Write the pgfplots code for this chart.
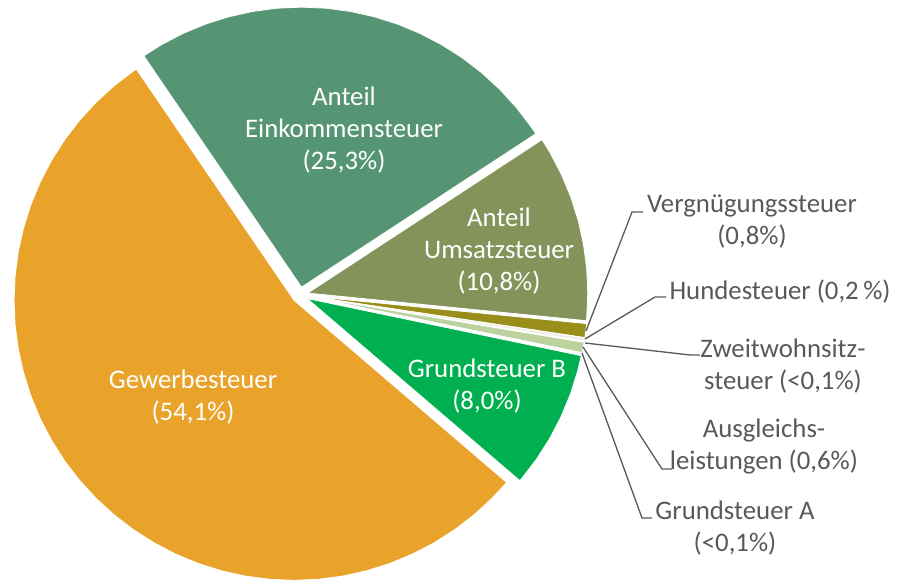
\documentclass[border=0pt]{standalone}
\usepackage{pgfplots}
\pgfplotsset{compat=1.18}
\usepackage{fontspec}
\setmainfont{Carlito}

\definecolor{cGew}{HTML}{E9A32A}
\definecolor{cEink}{HTML}{569574}
\definecolor{cUms}{HTML}{84935A}
\definecolor{cVerg}{HTML}{998E1A}
\definecolor{cHund}{HTML}{EFEFE6}
\definecolor{cZweit}{HTML}{EFEFE6}
\definecolor{cAusgl}{HTML}{BCD3A0}
\definecolor{cGrA}{HTML}{E4EAD8}
\definecolor{cGrB}{HTML}{00B050}
\definecolor{txt}{HTML}{595959}

\begin{document}
\begin{tikzpicture}
\begin{axis}[
    hide axis, scale only axis,
    width=903pt, height=583pt,
    xmin=-300, xmax=603, ymin=-288, ymax=295,
    clip=false,
    every axis plot/.append style={data cs=polar, draw=white, line width=0.8pt},
]
% Gewerbesteuer 54,1 %
\addplot[fill=cGew, shift={(221.86:8pt)}] coordinates {
 (0,0) (124.3,280) (125,280) (130,280) (135,280) (140,280) (145,280) (150,280)
 (155,280) (160,280) (165,280) (170,280) (175,280) (180,280) (185,280) (190,280)
 (195,280) (200,280) (205,280) (210,280) (215,280) (220,280) (225,280) (230,280)
 (235,280) (240,280) (245,280) (250,280) (255,280) (260,280) (265,280) (270,280)
 (275,280) (280,280) (285,280) (290,280) (295,280) (300,280) (305,280) (310,280)
 (315,280) (319.42,280) } -- cycle;
% Anteil Einkommensteuer 25,3 %
\addplot[fill=cEink, shift={(78.76:8pt)}] coordinates {
 (0,0) (33.22,280) (35,280) (40,280) (45,280) (50,280) (55,280) (60,280) (65,280)
 (70,280) (75,280) (80,280) (85,280) (90,280) (95,280) (100,280) (105,280)
 (110,280) (115,280) (120,280) (124.3,280) } -- cycle;
% Anteil Umsatzsteuer 10,8 %
\addplot[fill=cUms, shift={(13.78:8pt)}] coordinates {
 (0,0) (-5.66,280) (-5,280) (0,280) (5,280) (10,280) (15,280) (20,280) (25,280)
 (30,280) (33.22,280) } -- cycle;
% Vergnuegungssteuer 0,8 %
\addplot[fill=cVerg, shift={(-7.1:8pt)}] coordinates {
 (0,0) (-8.54,280) (-7.1,280) (-5.66,280) } -- cycle;
% Hundesteuer 0,2 %
\addplot[fill=cHund, shift={(-8.9:8pt)}] coordinates {
 (0,0) (-9.26,280) (-8.54,280) } -- cycle;
% Zweitwohnsitzsteuer <0,1 %
\addplot[fill=cZweit, shift={(-9.35:8pt)}] coordinates {
 (0,0) (-9.44,280) (-9.26,280) } -- cycle;
% Ausgleichsleistungen 0,6 %
\addplot[fill=cAusgl, shift={(-10.52:8pt)}] coordinates {
 (0,0) (-11.6,280) (-10.5,280) (-9.44,280) } -- cycle;
% Grundsteuer A <0,1 %
\addplot[fill=cGrA, shift={(-11.69:8pt)}] coordinates {
 (0,0) (-11.78,280) (-11.6,280) } -- cycle;
% Grundsteuer B 8,0 %
\addplot[fill=cGrB, shift={(-26.18:8pt)}] coordinates {
 (0,0) (-40.58,280) (-40,280) (-35,280) (-30,280) (-25,280) (-20,280) (-15,280)
 (-11.78,280) } -- cycle;

% leader lines
\draw[txt, line width=1.3pt] (axis cs:286,-36) -- (axis cs:332,83) -- (axis cs:343,83);
\draw[txt, line width=1.3pt] (axis cs:285,-44) -- (axis cs:355,-2) -- (axis cs:366,-2);
\draw[txt, line width=1.3pt] (axis cs:285,-48) -- (axis cs:390,-60) -- (axis cs:400,-60);
\draw[txt, line width=1.3pt] (axis cs:283,-52) -- (axis cs:362,-174) -- (axis cs:372,-174);
\draw[txt, line width=1.3pt] (axis cs:282,-58) -- (axis cs:342,-223) -- (axis cs:352,-223);

% labels
\tikzset{lbl/.style={align=center, font=\fontsize{26.8}{32}\selectfont}}
\node[lbl, white] at (axis cs:44,165) {Anteil\\Einkommensteuer\\(25,3\%)};
\node[lbl, white] at (axis cs:199,44) {Anteil\\Umsatzsteuer\\(10,8\%)};
\node[lbl, white] at (axis cs:-107,-102) {Gewerbesteuer\\(54,1\%)};
\node[lbl, white] at (axis cs:187,-91.5) {Grundsteuer B\\(8,0\%)};
\node[lbl, txt] at (axis cs:452,74) {Vergnügungssteuer\\(0,8\%)};
\node[lbl, txt, anchor=west] at (axis cs:366,3) {Hundesteuer (0,2\,\%)};
\node[lbl, txt] at (axis cs:483,-71) {Zweitwohnsitz-\\steuer (<0,1\%)};
\node[lbl, txt] at (axis cs:464,-151.5) {Ausgleichs-\\leistungen (0,6\%)};
\node[lbl, txt] at (axis cs:435,-233) {Grundsteuer A\\(<0,1\%)};
\end{axis}
\path (current axis.south west) rectangle (current axis.north east);
\end{tikzpicture}
\end{document}
